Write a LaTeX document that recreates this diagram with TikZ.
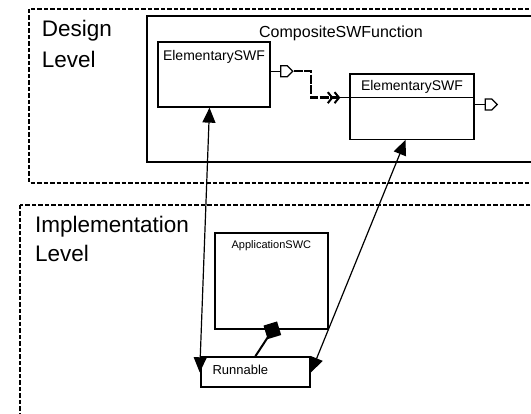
\documentclass[tikz,border=0pt]{standalone}
\usepackage{fontspec}
\setmainfont{Liberation Sans}
\usetikzlibrary{arrows.meta, shapes.symbols, positioning}
\tikzset{
  frame/.style={draw, line width=2.3pt, dash pattern=on 4.5pt off 2pt},
  swfbox/.style={draw, rectangle, line width=1.3pt, inner sep=0pt},
  swcbox/.style={draw, rectangle, line width=2pt, inner sep=0pt},
  port/.style={draw, signal, signal to=east, line width=1.3pt, inner sep=0pt,
    minimum width=12pt, minimum height=11pt},
  lbl/.style={inner sep=0pt},
  flow/.style={line width=2.5pt, dash pattern=on 9pt off 1.5pt,
    -{Straight Barb[length=4.5pt,width=11pt,line width=2pt] Straight Barb[length=4.5pt,width=11pt,line width=2pt]}},
  map/.style={<->, >={Triangle[length=15pt,width=13pt]}, line width=1.2pt},
}

\begin{document}
\begin{tikzpicture}[x=1pt,y=-1pt]
\useasboundingbox (0,0) rectangle (531,414);
\clip (0,0) rectangle (531,414);
% levels
\draw[frame] (29,9) rectangle (560,183);
\draw[frame] (20,205) rectangle (560,440);
\node[lbl, anchor=base west, align=left, font=\fontsize{22.5}{31}\selectfont] (design) at (41.7,68) {Design\\Level};
\node[lbl, anchor=base west, align=left, font=\fontsize{22.5}{28.7}\selectfont] (impl) at (35,261.7) {Implementation\\Level};

% design level
\draw[swfbox] (147,16) rectangle (560,162);
\node[lbl, anchor=base, font=\fontsize{16}{18}\selectfont] (comp) at (341,38) {CompositeSWFunction};
\node[swfbox, minimum width=112pt, minimum height=65pt] (e1) at (214,74.5) {};
\node[lbl, anchor=base, font=\fontsize{14}{16}\selectfont] (e1lbl) at ([yshift=-19pt]e1.north) {ElementarySWF};
\node[swfbox, minimum width=124pt, minimum height=65.3pt] (e2) at (412,106.65) {};
\node[lbl, anchor=base, font=\fontsize{14}{16}\selectfont] (e2lbl) at ([yshift=-16.7pt]e2.north) {ElementarySWF};
\coordinate (e2in) at ([yshift=-24.3pt]e2.north west);
\draw[line width=1.3pt] (e2in) -- (e2in -| e2.east);
\node[port] (p1) at (284,71.2) {};
\node[port] (p2) at (488.5,104.5) {};
\draw[line width=1.3pt] (p1.west -| e1.east) -- (p1.west);
\draw[line width=1.3pt] (p2.west -| e2.east) -- (p2.west);
\coordinate (tip) at ([xshift=-9pt]e2in);
\draw[flow] (p1.east) -- ++(17.5,0) |- (tip);
\draw[line width=1.3pt] (tip) -- (e2in);

% implementation level
\node[swcbox, minimum width=112.7pt, minimum height=96.6pt] (app) at (271.35,281) {};
\node[lbl, anchor=base, font=\fontsize{11}{13}\selectfont] (applbl) at ([yshift=-17.3pt]app.north) {ApplicationSWC};
\node[swcbox, minimum width=109.3pt, minimum height=30pt] (run) at (255.35,372.3) {};
\node[lbl, anchor=base west, font=\fontsize{13}{15}\selectfont] (runlbl) at ([xshift=12.6pt,yshift=-18.7pt]run.north west) {Runnable};
\coordinate (own) at ([xshift=1pt]app.south);
\draw[line width=2pt] (run.north) -- (own);
\fill ([shift={(62:10pt)}]own) -- ([shift={(152:10pt)}]own)
  -- ([shift={(242:10pt)}]own) -- ([shift={(332:10pt)}]own) -- cycle;

% mapping
\draw[map] ([xshift=-4.5pt]e1.south) -- (run.west);
\draw[map] ([xshift=-6.5pt]e2.south) -- (run.east);
\end{tikzpicture}
\end{document}
